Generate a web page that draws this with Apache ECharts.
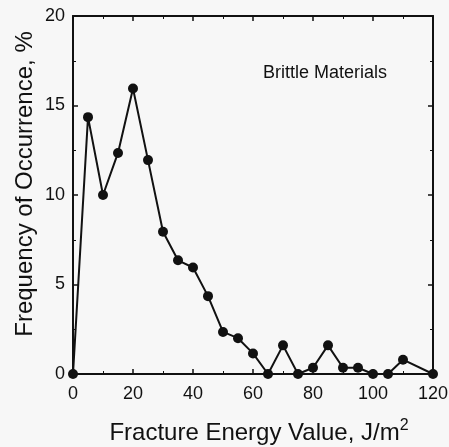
<!DOCTYPE html>
<html>
<head>
<meta charset="utf-8">
<script src="https://cdn.jsdelivr.net/npm/echarts@6/dist/echarts.min.js"></script>
<style>
  html, body { margin: 0; padding: 0; background: #f7f7f7; }
  #graph { width: 449px; height: 447px; }
</style>
</head>
<body>
<div id="graph"></div>
<script>
"use strict"

// energy bins (J/m^2) and frequency (%)
const energy = [0, 5, 10, 15, 20, 25, 30, 35, 40, 45, 50, 55, 60, 65, 70, 75, 80, 85, 90, 95, 100, 105, 110, 120];
const freq = [0, 14.35, 10, 12.35, 15.95, 11.95, 7.95, 6.35, 5.95, 4.35, 2.35, 2.0, 1.15, 0, 1.6, 0, 0.35, 1.6, 0.35, 0.35, 0, 0, 0.8, 0];
const xTicks = [0, 20, 40, 60, 80, 100, 120];
const yTicks = [0, 5, 10, 15, 20];

const font = "Liberation Sans, Arial, sans-serif";
const axisLine = { show: true, onZero: false, lineStyle: { color: "#111", width: 2 } };
const tick = { show: true, inside: true, length: 5, lineStyle: { color: "#111", width: 1.5 } };
const minor = { show: true, splitNumber: 2, length: 3, lineStyle: { color: "#111", width: 1 } };

const myChart = echarts.init(document.getElementById("graph"), null, { renderer: "canvas" });

myChart.setOption({
    backgroundColor: "#f7f7f7",
    animation: false,
    grid: { left: 73, right: 16, top: 16, bottom: 73, containLabel: false, outerBoundsMode: "none" },
    graphic: [{
        type: "text", left: 263, top: 64,
        style: { text: "Brittle Materials", font: "18px " + font, fill: "#111" }
    }, {
        type: "text", x: 13, y: 184, rotation: Math.PI / 2,
        style: {
            text: "Frequency of Occurrence, %", font: "24px " + font, fill: "#111",
            align: "center", verticalAlign: "top"
        }
    }],
    xAxis: [{
        type: "value", position: "bottom",
        min: xTicks[0], max: xTicks[xTicks.length - 1], interval: 20,
        axisLine: axisLine, axisTick: tick, minorTick: minor,
        splitLine: { show: false },
        axisLabel: { color: "#111", fontSize: 18, fontFamily: font, margin: 11 },
        name: "Fracture Energy Value, J/m{sup|2}",
        nameLocation: "middle", nameGap: 44,
        nameTextStyle: {
            color: "#111", fontSize: 24, fontFamily: font, padding: [0, 0, 0, 12],
            rich: { sup: { fontSize: 16, fontFamily: font, color: "#111", verticalAlign: "top", padding: [0, 0, 14, 0] } }
        }
    }, {
        type: "value", position: "top",
        min: xTicks[0], max: xTicks[xTicks.length - 1], interval: 20,
        axisLine: axisLine, axisTick: tick, minorTick: minor,
        splitLine: { show: false }, axisLabel: { show: false }
    }],
    yAxis: [{
        type: "value", position: "left",
        min: yTicks[0], max: yTicks[yTicks.length - 1], interval: 5,
        axisLine: axisLine, axisTick: tick, minorTick: minor,
        splitLine: { show: false },
        axisLabel: { color: "#111", fontSize: 18, fontFamily: font, margin: 8 }
    }, {
        type: "value", position: "right",
        min: yTicks[0], max: yTicks[yTicks.length - 1], interval: 5,
        axisLine: axisLine, axisTick: tick, minorTick: minor,
        splitLine: { show: false }, axisLabel: { show: false }
    }],
    series: [{
        type: "line",
        data: energy.map((e, i) => [e, freq[i]]),
        symbol: "circle", symbolSize: 10,
        itemStyle: { color: "#111" },
        lineStyle: { color: "#111", width: 2 },
        clip: false
    }]
});
</script>
</body>
</html>
